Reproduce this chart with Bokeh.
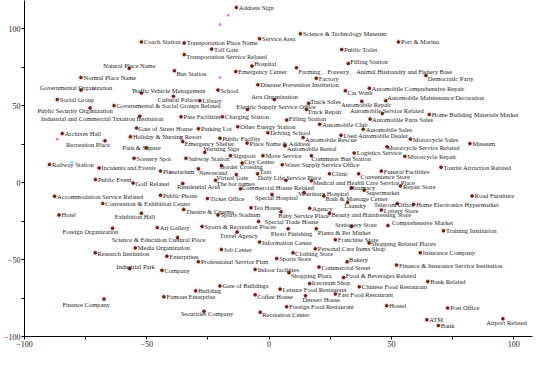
from bokeh.plotting import figure
from bokeh.models import ColumnDataSource, FixedTicker, Range1d
from bokeh.core.properties import value
from bokeh.embed import file_html
from bokeh.resources import INLINE

names = ["Address Sign","Science & Technology Museum","Coach Station","Transportation Place Name","Service Area","Port & Marina","Toll Gate","Public Toilet","Transportation Service Related","Natural Place Name","Filling Station","Hospital","Farming、Forestry、Animal Husbandry and Fishery Base","Normal Place Name","Bus Station","Emergency Center","Factory","Democratic Party","Governmental Organization","Disease Prevention Institution","Social Group","Traffic Vehicle Management","School","Car Wash","Automobile Comprehensive Repair","Cultural Palace","Library","Arts Organization","Automobile Maintenance/Decoration","Public Security Organization","Governmental & Social Groups Related","Electric Supply Service Office","Truck Sales","Automobile Repair","Industrial and Commercial Taxation Institution","Pass Facilities","Charging Station","Filling Station","Truck Repair","Automobile Service Related","Home Building Materials Market","Automobile Parts Sales","Archives Hall","Gate of Street House","Parking Lot","Other Energy Station","Automobile Club","Automobile Sales","Recreation Place","Holiday & Nursing Resort","Public Facility","Driving School","Used Automobile Dealer","Emergency Shelter","Place Name & Address","Automobile Rescue","Motorcycle Sales","Museum","Warning Sign","Automobile Rental","Motorcycle Service Related","Park & Square","Logistics Service","Scenery Spot","Subway Station","Signpost","Move Service","Commuter Bus Station","Motorcycle Repair","Railway Station","Incidents and Events","City Center","Water Supply Service Office","Border Crossing","Planetarium","Newsstand","Taxi","Clinic","Convenience Store","Funeral Facilities","Tourist Attraction Related","Virtual Gate","Daily Life Service Place","Public Event","Golf Related","The hot names","Medical and Health Care Service Place","Repair Store","Residential Area","Commercial House Related","Pharmacy","Supermarket","Accommodation Service Related","Public Phone","Ticket Office","Special Hospital","Veterinary Hospital","Bath & Massage Center","Road Furniture","Convention & Exhibition Center","Laundry","Telecom Office","Home Electronics Hypermarket","Hotel","Exhibition Hall","Theatre & Cinema","Tea House","Agency","Lottery Store","Sports Stadium","Baby Service Place","Beauty and Hairdressing Store","Special Trade House","Stationery Store","Comprehensive Market","Art Gallery","Sports & Recreation Places","Foreign Organization","Travel Agency","Photo Finishing","Plants & Pet Market","Training Institution","Science & Education Cultural Place","Information Center","Franchise Store","Shopping Related Places","Media Organization","Job Center","Personal Care Items Shop","Clothing Store","Insurance Company","Research Institution","Enterprises","Professional Service Firm","Sports Store","Bakery","Finance & Insurance Service Institution","Industrial Park","Company","Indoor facilities","Commercial Street","Shopping Plaza","Gate of Buildings","Food & Beverages Related","Icecream Shop","Bank Related","Building","Chinese Food Restaurant","Famous Enterprise","Leisure Food Restaurant","Coffee House","Fast Food Restaurant","Dessert House","Finance Company","Foreign Food Restaurant","Hostel","Post Office","Securities Company","Recreation Center","ATM","Airport Related","Bank"]

xs = [-13.4,12.8,-52.2,-34.7,-3.9,52.9,-23.5,29.7,-34.7,-57.2,32.4,-7.0,11.2,-76.9,-38.7,-13.6,19.3,64.1,-76.9,-4.6,-86.6,-52.2,-20.9,31.2,41.0,-39.1,-28.3,2.2,47.7,-73.2,-63.4,-8.8,16.2,37.9,-52.9,-36.0,-19.1,7.2,15.3,46.3,65.5,41.3,-84.6,-54.2,-28.9,-12.8,20.7,38.5,-67.1,-56.7,-20.1,-0.5,29.4,-35.3,-9.0,13.9,57.8,82.1,-26.3,6.5,48.2,-50.2,34.8,-55.2,-34.0,-15.8,-2.5,17.3,55.5,-89.8,-69.5,-11.0,5.4,-19.5,-44.4,-28.9,-4.7,24.7,36.6,45.9,70.3,-13.4,6.9,-71.0,-55.6,-21.9,17.3,53.7,-35.3,-11.7,33.7,38.9,-87.7,-44.4,-25.2,1.2,14.3,22.4,83.0,-68.0,32.1,52.4,59.1,-85.9,-52.2,-34.9,-7.4,16.6,45.9,-20.9,4.9,24.7,-4.3,33.7,48.6,-45.7,-27.4,-64.0,-13.1,7.8,19.3,71.3,-37.4,-3.9,27.1,40.9,-54.7,-19.5,18.9,9.8,61.8,-71.1,-41.8,-28.9,3.1,31.9,52.1,-57.0,-43.8,-5.7,20.4,8.1,-20.1,30.5,16.6,64.9,-30.0,36.9,-43.0,4.5,-5.7,27.1,14.9,-67.5,7.2,48.1,73.0,-26.6,-3.6,64.5,95.6,69.2]

ys = [113.9,96.8,91.5,90.8,93.6,91.5,86.8,86.5,83.3,74.3,77.5,75.8,74.7,68.3,72.8,72.2,67.9,69.6,60.2,63.6,54.0,58.2,60.2,59.8,61.4,56.1,53.3,54.0,53.3,48.6,50.1,47.6,51.6,52.9,43.2,42.8,42.8,40.7,47.6,45.0,44.3,41.3,31.9,35.5,35.1,36.4,37.9,34.7,27.2,29.9,28.9,32.5,30.8,26.7,25.7,29.3,28.3,25.4,19.7,24.0,23.3,22.7,19.3,15.8,15.8,17.5,17.5,17.5,17.1,11.8,9.6,12.8,11.6,11.1,7.5,9.0,5.8,5.8,5.8,7.5,10.0,5.3,1.5,2.1,-0.3,1.5,1.3,-2.2,-0.6,-3.9,-3.5,-5.0,-8.8,-8.2,-10.3,-7.7,-6.4,-8.6,-8.6,-13.5,-12.9,-13.5,-14.1,-21.0,-19.9,-17.4,-16.3,-16.7,-17.8,-21.0,-18.9,-19.9,-25.3,-28.5,-27.9,-29.2,-28.5,-29.6,-32.1,-30.0,-30.0,-31.3,-35.6,-38.6,-37.1,-39.2,-42.4,-43.5,-42.9,-45.6,-45.6,-45.6,-47.8,-51.4,-49.3,-51.4,-53.6,-55.9,-57.0,-56.4,-54.9,-58.5,-67.1,-61.7,-65.6,-64.3,-70.3,-67.7,-74.2,-69.2,-72.9,-72.4,-73.5,-75.7,-80.6,-80.0,-81.4,-83.6,-84.2,-89.1,-88.5,-92.8]

# faint coloured specks
speck_x = [-54.7,-16.7,-20.1,-20.1,-71.8,-15.8,-40.4,-36.0,-86.6,-80.6]
speck_y = [59.9,109.0,102.8,68.3,61.0,18.0,6.8,29.3,28.3,13.2]
speck_c = ["#6fe0ee","#f07ee0","#f07ee0","#f07ee0","#f07ee0","#6fe0ee","#f07ee0","#f07ee0","#f07ee0","#6fe0ee"]

x_ticks = [-100, -50, 0, 50, 100]
y_ticks = [-100, -50, 0, 50, 100]

# label placement (pixel offsets of the text's left-middle from the point)
label_offsets = {
    "Natural Place Name": (-26, -2.7),
    "Governmental Organization": (-41.3, -2.7),
    "Public Security Organization": (-52.6, 2.3),
    "Traffic Vehicle Management": (-10, -2.7),
    "Hospital": (2.3, -2.3),
    "Bus Station": (2, 2.7),
    "Cultural Palace": (-15.6, 3),
    "Arts Organization": (-23.3, -3.3),
    "Electric Supply Service Office": (-11.3, -3.3),
    "Transportation Service Related": (2, 2.3),
    "Farming、Forestry、Animal Husbandry and Fishery Base": (2, 3.3),
    "Filling Station": (2, -1.7),
    "Car Wash": (2, 1.7),
    "Automobile Maintenance/Decoration": (1.6, -3.3),
    "Truck Sales": (1.5, -1.6),
    "Truck Repair": (1, 2.4),
    "Automobile Repair": (-20.7, 3.3),
    "Automobile Service Related": (-32.3, -3.3),
    "Automobile Parts Sales": (2, 0),
    "Democratic Party": (2, 3),
    "Industrial and Commercial Taxation Institution": (-98.6, 2.7),
    "Recreation Place": (-39, 3.3),
    "Park & Square": (-24, 0),
    "Emergency Shelter": (2, 2),
    "Automobile Rescue": (2, 1.6),
    "Automobile Rental": (2, 2.7),
    "Warning Sign": (-1.3, -3.4),
    "Commuter Bus Station": (0, 2.3),
    "Motorcycle Service Related": (0, 1),
    "City Center": (2, -1.6),
    "Border Crossing": (-1.4, 1),
    "Newsstand": (0.6, 3.4),
    "Taxi": (2, -2.3),
    "Convenience Store": (2, 2.7),
    "Virtual Gate": (-20, 2.7),
    "Daily Life Service Place": (-28.3, -3.3),
    "The hot names": (1, 2.7),
    "Medical and Health Care Service Place": (1.5, 1.4),
    "Residential Area": (-5.7, 3.4),
    "Commercial House Related": (1.5, -1.6),
    "Pharmacy": (-2.3, -1),
    "Supermarket": (2, 1.7),
    "Special Hospital": (-17, 3.2),
    "Veterinary Hospital": (-6, 1),
    "Bath & Massage Center": (1.7, 2.6),
    "Laundry": (-3.3, 3.4),
    "Telecom Office": (-23.3, 1),
    "Theatre & Cinema": (2, 1.7),
    "Beauty and Hairdressing Store": (2, 1.7),
    "Baby Service Place": (-2.7, 3.3),
    "Special Trade House": (6, 0),
    "Stationery Store": (-16.6, -2.4),
    "Comprehensive Market": (4, -3.4),
    "Foreign Organization": (-50, 3.4),
    "Science & Education Cultural Place": (-65.7, 2.3),
    "Travel Agency": (-17.4, 3.7),
    "Photo Finishing": (-17.3, 4.3),
    "Plants & Pet Market": (1.5, 3.3),
    "Industrial Park": (-13.3, -1.8),
    "Coffee House": (2, 2),
    "Securities Company": (-23.3, 2),
    "Recreation Center": (2, 2.4),
    "Finance Company": (-41.6, 5),
    "Shopping Plaza": (2, 2.7),
    "Food & Beverages Related": (2, -1.6),
    "Icecream Shop": (2, -1),
    "Bakery": (2, -2.3),
    "Dessert House": (-3, 3.3),
    "Airport Related": (-16.7, 4),
    "Clothing Store": (2, 1),
    "Shopping Related Places": (2, 1),
    "Research Institution": (2, 1),
    "Exhibition Hall": (-26.7, 3.7),
    "Gate of Street House": (1.7, 0),
}

dx = [label_offsets.get(n, (2.5, 0))[0] for n in names]
dy = [label_offsets.get(n, (2.5, 0))[1] for n in names]

src = ColumnDataSource(dict(x=xs, y=ys, name=names, dx=dx, dy=dy))
spk = ColumnDataSource(dict(x=speck_x, y=speck_y, c=speck_c))

p = figure(width=534, height=349, output_backend="svg", toolbar_location=None,
           x_range=Range1d(-100, 107.7), y_range=Range1d(-100, 118.4),
           min_border_left=19, min_border_right=2, min_border_top=0, min_border_bottom=0)
p.outline_line_color = None
p.xgrid.visible = False
p.ygrid.visible = False
p.background_fill_color = "white"

for ax, ticks in ((p.xaxis, x_ticks), (p.yaxis, y_ticks)):
    ax.ticker = FixedTicker(ticks=ticks, minor_ticks=[t + 25 for t in ticks[:-1]])
    ax.axis_line_color = "black"
    ax.major_tick_line_color = "black"
    ax.minor_tick_line_color = "black"
    ax.major_tick_out = 3
    ax.major_tick_in = 0
    ax.minor_tick_out = 3
    ax.minor_tick_in = 0
    ax.major_label_text_font = "Liberation Serif"
    ax.major_label_text_font_size = "8px"
    ax.major_label_text_color = "#222222"
    ax.major_label_standoff = 1

p.scatter("x", "y", source=src, size=7, marker="square", fill_color="#fce6f0",
          line_color=None, fill_alpha=0.6)
p.scatter("x", "y", source=spk, size=3, color="c", line_color=None)
p.scatter("x", "y", source=src, size=3, fill_color="#6a2a14", line_color="#2e1008", line_width=0.5)
p.text("x", "y", text="name", source=src, x_offset="dx", y_offset="dy",
       text_font=value("Liberation Serif"), text_font_size="6.5px",
       text_color="#1a1a1a", text_align="left", text_baseline="middle")

open("out.html", "w").write(file_html(p, INLINE))
